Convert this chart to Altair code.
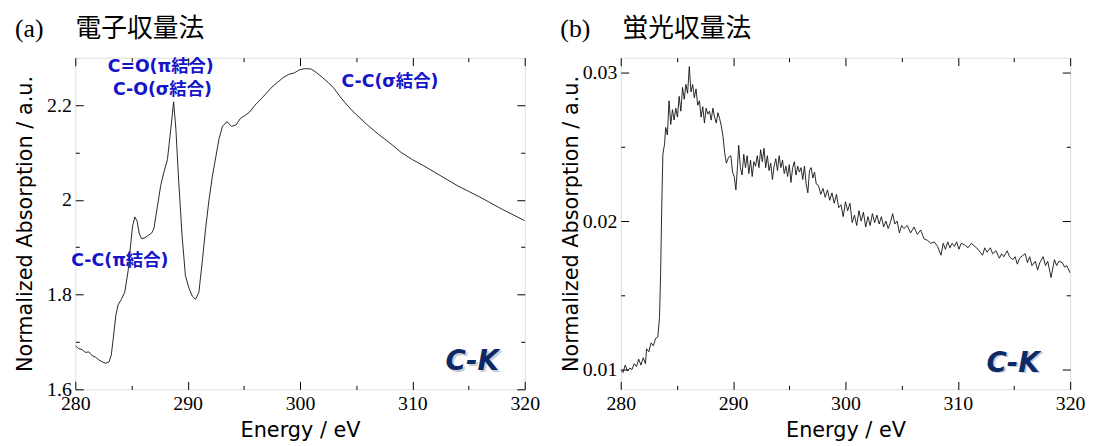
import altair as alt
import pandas as pd

# ---------------- data ----------------
# (a) electron yield
ey_energy = [280.0, 280.3, 280.6, 280.9, 281.2, 281.5, 281.8, 282.1, 282.4, 282.7,
             283.0, 283.2, 283.4, 283.6, 283.8, 284.1, 284.4, 284.7, 284.9, 285.1,
             285.3, 285.5, 285.7, 285.9, 286.2, 286.5, 286.8, 287.0, 287.3, 287.6,
             287.9, 288.2, 288.5, 288.75, 288.95, 289.2, 289.5, 289.8, 290.1, 290.4,
             290.7, 291.0, 291.3, 291.6, 291.9, 292.2, 292.5, 292.8, 293.1, 293.5,
             293.9, 294.3, 294.7, 295.1, 295.5, 296.0, 296.5, 297.0, 297.5, 298.0,
             298.5, 299.0, 299.5, 300.0, 300.5, 301.0, 301.5, 302.0, 302.5, 303.0,
             303.5, 304.0, 304.5, 305.0, 306.0, 307.0, 308.0, 309.0, 310.0, 311.0,
             312.0, 313.0, 314.0, 315.0, 316.0, 317.0, 318.0, 319.0, 320.0]
ey_value = [1.692, 1.686, 1.684, 1.678, 1.679, 1.671, 1.668, 1.662, 1.658, 1.655,
            1.658, 1.672, 1.712, 1.755, 1.778, 1.790, 1.805, 1.850, 1.900, 1.945,
            1.964, 1.955, 1.928, 1.918, 1.920, 1.925, 1.930, 1.940, 1.985, 2.030,
            2.060, 2.085, 2.150, 2.207, 2.150, 2.040, 1.925, 1.840, 1.815, 1.797,
            1.790, 1.805, 1.870, 1.940, 2.000, 2.050, 2.090, 2.130, 2.155, 2.165,
            2.155, 2.158, 2.172, 2.178, 2.185, 2.200, 2.212, 2.225, 2.238, 2.248,
            2.258, 2.265, 2.268, 2.275, 2.277, 2.276, 2.268, 2.258, 2.248, 2.236,
            2.220, 2.205, 2.192, 2.180, 2.158, 2.138, 2.120, 2.100, 2.085, 2.072,
            2.058, 2.044, 2.030, 2.018, 2.006, 1.993, 1.980, 1.968, 1.956]

# (b) fluorescence yield
fy_energy = [280.0, 280.2, 280.4, 280.6, 280.8, 281.0, 281.2, 281.4, 281.6, 281.8,
             282.0, 282.2, 282.3, 282.5, 282.7, 282.9, 283.1, 283.3, 283.45, 283.55,
             283.65, 283.75, 283.9, 284.0, 284.15, 284.3, 284.45, 284.6, 284.75, 284.9,
             285.05, 285.2, 285.35, 285.5, 285.65, 285.8, 285.95, 286.1, 286.25, 286.4,
             286.55, 286.7, 286.85, 287.0, 287.15, 287.3, 287.45, 287.6, 287.75, 287.9,
             288.05, 288.2, 288.35, 288.5, 288.65, 288.8, 288.95, 289.1, 289.25, 289.4,
             289.6, 289.8, 289.95, 290.1, 290.25, 290.4, 290.5, 290.65, 290.8, 290.95,
             291.1, 291.25, 291.4, 291.55, 291.7, 291.85, 292.0, 292.15, 292.3, 292.45,
             292.6, 292.75, 292.9, 293.05, 293.2, 293.35, 293.5, 293.65, 293.8, 293.95,
             294.1, 294.25, 294.4, 294.55, 294.7, 294.85, 295.0, 295.15, 295.3, 295.45,
             295.6, 295.75, 295.9, 296.05, 296.2, 296.35, 296.5, 296.65, 296.8, 296.95,
             297.1, 297.25, 297.4, 297.6, 297.8, 298.0, 298.2, 298.4, 298.6, 298.8,
             299.0, 299.2, 299.4, 299.6, 299.8, 300.0, 300.2, 300.4, 300.6, 300.8,
             301.0, 301.2, 301.4, 301.6, 301.8, 302.0, 302.2, 302.4, 302.6, 302.8,
             303.0, 303.2, 303.4, 303.6, 303.8, 304.0, 304.2, 304.4, 304.6, 304.8,
             305.0, 305.2, 305.5, 305.8, 306.1, 306.4, 306.7, 307.0, 307.3, 307.6,
             307.9, 308.2, 308.5, 308.7, 308.9, 309.1, 309.3, 309.5, 309.7, 309.9,
             310.1, 310.3, 310.6, 310.9, 311.2, 311.5, 311.8, 312.0, 312.2, 312.4,
             312.6, 312.9, 313.1, 313.4, 313.7, 313.9, 314.1, 314.4, 314.6, 314.9,
             315.1, 315.3, 315.5, 315.8, 316.0, 316.2, 316.4, 316.6, 316.9, 317.1,
             317.3, 317.6, 317.8, 318.0, 318.3, 318.5, 318.6, 318.8, 319.0, 319.3,
             319.5, 319.7, 320.0]
fy_value = [0.0100, 0.0098, 0.0103, 0.0099, 0.0101, 0.0100, 0.0104, 0.0102, 0.0107, 0.0103,
            0.0108, 0.0104, 0.0114, 0.0112, 0.0118, 0.0116, 0.0121, 0.0122, 0.0135, 0.0165,
            0.0210, 0.0245, 0.0252, 0.0263, 0.0258, 0.0281, 0.0265, 0.0275, 0.0268, 0.0276,
            0.0270, 0.0284, 0.0274, 0.0290, 0.0282, 0.0292, 0.0286, 0.0304, 0.0287, 0.0292,
            0.0283, 0.0289, 0.0278, 0.0281, 0.0270, 0.0277, 0.0266, 0.0276, 0.0272, 0.0274,
            0.0268, 0.0276, 0.0270, 0.0266, 0.0273, 0.0269, 0.0264, 0.0257, 0.0246, 0.0239,
            0.0243, 0.0244, 0.0233, 0.0230, 0.0221, 0.0238, 0.0251, 0.0236, 0.0231, 0.0245,
            0.0236, 0.0244, 0.0232, 0.0241, 0.0230, 0.0240, 0.0237, 0.0244, 0.0236, 0.0248,
            0.0240, 0.0249, 0.0236, 0.0244, 0.0234, 0.0239, 0.0228, 0.0237, 0.0242, 0.0234,
            0.0244, 0.0236, 0.0241, 0.0232, 0.0237, 0.0230, 0.0238, 0.0226, 0.0236, 0.0240,
            0.0231, 0.0237, 0.0233, 0.0236, 0.0228, 0.0237, 0.0225, 0.0219, 0.0234, 0.0236,
            0.0229, 0.0233, 0.0225, 0.0224, 0.0218, 0.0222, 0.0216, 0.0221, 0.0214, 0.0219,
            0.0212, 0.0218, 0.0209, 0.0211, 0.0203, 0.0213, 0.0207, 0.0212, 0.0199, 0.0204,
            0.0197, 0.0207, 0.0200, 0.0206, 0.0196, 0.0203, 0.0197, 0.0205, 0.0199, 0.0204,
            0.0198, 0.0203, 0.0196, 0.0200, 0.0195, 0.0199, 0.0205, 0.0198, 0.0200, 0.0192,
            0.0197, 0.0195, 0.0197, 0.0192, 0.0196, 0.0191, 0.0194, 0.0188, 0.0187, 0.0185,
            0.0186, 0.0183, 0.0177, 0.0185, 0.0181, 0.0186, 0.0182, 0.0185, 0.0183, 0.0186,
            0.0181, 0.0185, 0.0184, 0.0182, 0.0185, 0.0183, 0.0181, 0.0179, 0.0177, 0.0182,
            0.0179, 0.0182, 0.0178, 0.0180, 0.0175, 0.0178, 0.0176, 0.0180, 0.0176, 0.0174,
            0.0176, 0.0171, 0.0175, 0.0177, 0.0178, 0.0172, 0.0176, 0.0170, 0.0173, 0.0167,
            0.0172, 0.0176, 0.0170, 0.0173, 0.0162, 0.0170, 0.0174, 0.0170, 0.0173, 0.0172,
            0.0169, 0.0170, 0.0165]

x_major = [280, 290, 300, 310, 320]
x_minor = [285, 295, 305, 315]
ey_y_major = [1.6, 1.8, 2.0, 2.2]
ey_y_minor = [1.7, 1.9, 2.1]
fy_y_major = [0.01, 0.02, 0.03]
fy_y_minor = [0.015, 0.025]

ey_notes_text = ["C=O(π結合)", "C-O(σ結合)", "C-C(π結合)", "C-C(σ結合)"]
ey_notes_x = [287.6, 287.75, 283.96, 308.0]
ey_notes_y = [2.28, 2.232, 1.87, 2.249]

ck_text = ["C-K"]
ey_ck_x = [317.7]
ey_ck_y = [1.640]
fy_ck_x = [317.3]
fy_ck_y = [0.00987]

titles = ["(a) 　電子収量法", "(b) 　蛍光収量法"]

SERIF = "Liberation Serif"
SANS = "DejaVu Sans"
W, H = 454, 335


def panel(energy, value, xdom, ydom, ymaj, ymin, yfmt, title, ck_x, ck_y,
          y_title_pad, notes=None):
    df = pd.DataFrame({"E": energy, "v": value})
    xs = alt.Scale(domain=xdom, nice=False, zero=False)
    ys = alt.Scale(domain=ydom, nice=False, zero=False)
    base = alt.Chart(df)

    line = base.mark_line(color="#111111", strokeWidth=0.9, clip=True).encode(
        x=alt.X("E:Q", scale=xs, axis=alt.Axis(
            values=x_major, ticks=False, domain=False, grid=False,
            labelFont=SERIF, labelFontSize=20, labelColor="black",
            labelPadding=4, labelFlush=False, labelOverlap=False,
            title="Energy / eV", titleFont=SANS, titleFontSize=21,
            titleFontWeight="normal", titleColor="black", titlePadding=7)),
        y=alt.Y("v:Q", scale=ys, axis=alt.Axis(
            values=ymaj, format=yfmt, ticks=False, domain=False, grid=False,
            labelFont=SERIF, labelFontSize=20, labelColor="black",
            labelPadding=4, labelFlush=False, labelOverlap=False,
            title="Normalized Absorption / a.u.", titleFont=SANS,
            titleFontSize=21, titleFontWeight="normal", titleColor="black",
            titlePadding=y_title_pad)),
    )

    def ticks(xo, yo, xv, yv, size):
        return base.mark_point(opacity=0).encode(
            x=alt.X("E:Q", scale=xs, axis=alt.Axis(
                orient=xo, values=xv, offset=-size, tickSize=size,
                tickColor="black", tickWidth=1, labels=False, domain=False,
                grid=False, title=None)),
            y=alt.Y("v:Q", scale=ys, axis=alt.Axis(
                orient=yo, values=yv, offset=-size, tickSize=size,
                tickColor="black", tickWidth=1, labels=False, domain=False,
                grid=False, title=None)),
        )

    layers = [line,
              ticks("bottom", "left", x_major, ymaj, 8),
              ticks("bottom", "left", x_minor, ymin, 4),
              ticks("top", "right", x_major, ymaj, 8),
              ticks("top", "right", x_minor, ymin, 4)]

    if notes is not None:
        ndf = pd.DataFrame({"t": notes[0], "E": notes[1], "v": notes[2]})
        layers.append(alt.Chart(ndf).mark_text(
            font=SANS + ", Noto Sans CJK JP", fontSize=17.5, fontWeight="bold",
            color="#1414c8", align="center", baseline="middle").encode(
            x=alt.X("E:Q", scale=xs, axis=None),
            y=alt.Y("v:Q", scale=ys, axis=None),
            text="t:N"))

    cdf = pd.DataFrame({"t": ck_text, "E": ck_x, "v": ck_y})
    for col, dx, dy, op in [("#a4a4b4", 2, 2, 0.55), ("#0c2a66", 0, 0, 1)]:
        layers.append(alt.Chart(cdf).mark_text(
            font=SANS, fontSize=28, fontWeight="bold", fontStyle="italic",
            color=col, align="right", baseline="alphabetic", dx=dx, dy=dy,
            opacity=op).encode(
            x=alt.X("E:Q", scale=xs, axis=None),
            y=alt.Y("v:Q", scale=ys, axis=None),
            text="t:N"))

    return alt.layer(*layers).resolve_axis(
        x="independent", y="independent").properties(
        width=W, height=H,
        title=alt.TitleParams(
            text=title, anchor="start", frame="group", dx=-61, offset=15,
            font=SERIF + ", Noto Sans CJK JP", fontSize=26,
            fontWeight="normal", color="black"))


left = panel(ey_energy, ey_value, [280, 320], [1.6, 2.3], ey_y_major,
             ey_y_minor, ".1~f", titles[0], ey_ck_x, ey_ck_y, 11,
             notes=(ey_notes_text, ey_notes_x, ey_notes_y))
right = panel(fy_energy, fy_value, [280, 320], [0.00867, 0.031], fy_y_major,
              fy_y_minor, ".2~f", titles[1], fy_ck_x, fy_ck_y, 1)

chart = alt.hconcat(left, right, spacing=97, bounds="flush").properties(
    padding={"left": 6, "top": 6, "right": 0, "bottom": 0}
).configure_view(stroke="black", strokeWidth=1).configure(background="white")

chart.save("out.html", embed_options={"renderer": "svg", "actions": False})
